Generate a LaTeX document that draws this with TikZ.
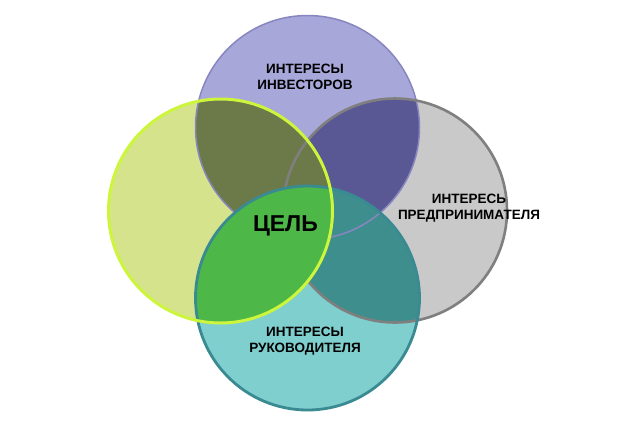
\documentclass[tikz,border=0pt]{standalone}
\usepackage{fontspec}
\setmainfont{Liberation Sans}
\begin{document}
\begin{tikzpicture}[x=1bp,y=-1bp,
  lbl/.style={font=\bfseries\fontsize{13.5bp}{16bp}\selectfont, align=center, inner sep=0pt, text=black},
  goal/.style={font=\bfseries\fontsize{23bp}{26bp}\selectfont, inner sep=0pt, text=black}]
\definecolor{Lonly}{HTML}{D5E48C}
\definecolor{Tonly}{HTML}{A7A7D9}
\definecolor{Ronly}{HTML}{C9C9C9}
\definecolor{Bonly}{HTML}{80CFCF}
\definecolor{LT}{HTML}{6B7A48}
\definecolor{TR}{HTML}{5A5894}
\definecolor{RB}{HTML}{3F8E8E}
\definecolor{LB}{HTML}{4DB848}
\definecolor{Lline}{HTML}{CCF53C}
\definecolor{Tline}{HTML}{8886C0}
\definecolor{Rline}{HTML}{7F7F7F}
\definecolor{Bline}{HTML}{3A8A92}
\def\rr{112bp}
\useasboundingbox[fill=white] (0,0) rectangle (620,422);
\coordinate (cT) at (307.5,127.5);
\coordinate (cL) at (220.5,211);
\coordinate (cR) at (395,210.5);
\coordinate (cB) at (307.5,298);
% base fills
\fill[Tonly] (cT) circle[radius=\rr];
\fill[Ronly] (cR) circle[radius=\rr];
\fill[Bonly] (cB) circle[radius=\rr];
\begin{scope}
  \clip (cT) circle[radius=\rr];
  \fill[TR] (cR) circle[radius=\rr];
\end{scope}
\begin{scope}
  \clip (cR) circle[radius=\rr];
  \fill[RB] (cB) circle[radius=\rr];
\end{scope}
\fill[Lonly] (cL) circle[radius=\rr];
\begin{scope}
  \clip (cL) circle[radius=\rr];
  \fill[LT] (cT) circle[radius=\rr];
  \fill[LB] (cB) circle[radius=\rr];
\end{scope}
% outlines
\draw[Tline, line width=1.5bp] (cT) circle[radius=\rr];
\draw[Rline, line width=2.6bp] (cR) circle[radius=\rr];
\begin{scope}
  \clip (cL) circle[radius=\rr];
  \fill[LB] (cB) circle[radius=\rr];
\end{scope}
\draw[Bline, line width=2.8bp] (cB) circle[radius=\rr];
\draw[Lline, line width=3bp] (cL) circle[radius=\rr];
% labels
\node[lbl] (inv) at (305,76.5) {ИНТЕРЕСЫ\\ИНВЕСТОРОВ};
\node[lbl] (ent) at (469,208.5) {ИНТЕРЕСЬ\\ПРЕДПРИНИМАТЕЛЯ};
\node[lbl] (man) at (305,341.5) {ИНТЕРЕСЫ\\РУКОВОДИТЕЛЯ};
\node[goal] (goalnode) at (285.5,226) {ЦЕЛЬ};
\end{tikzpicture}
\end{document}
